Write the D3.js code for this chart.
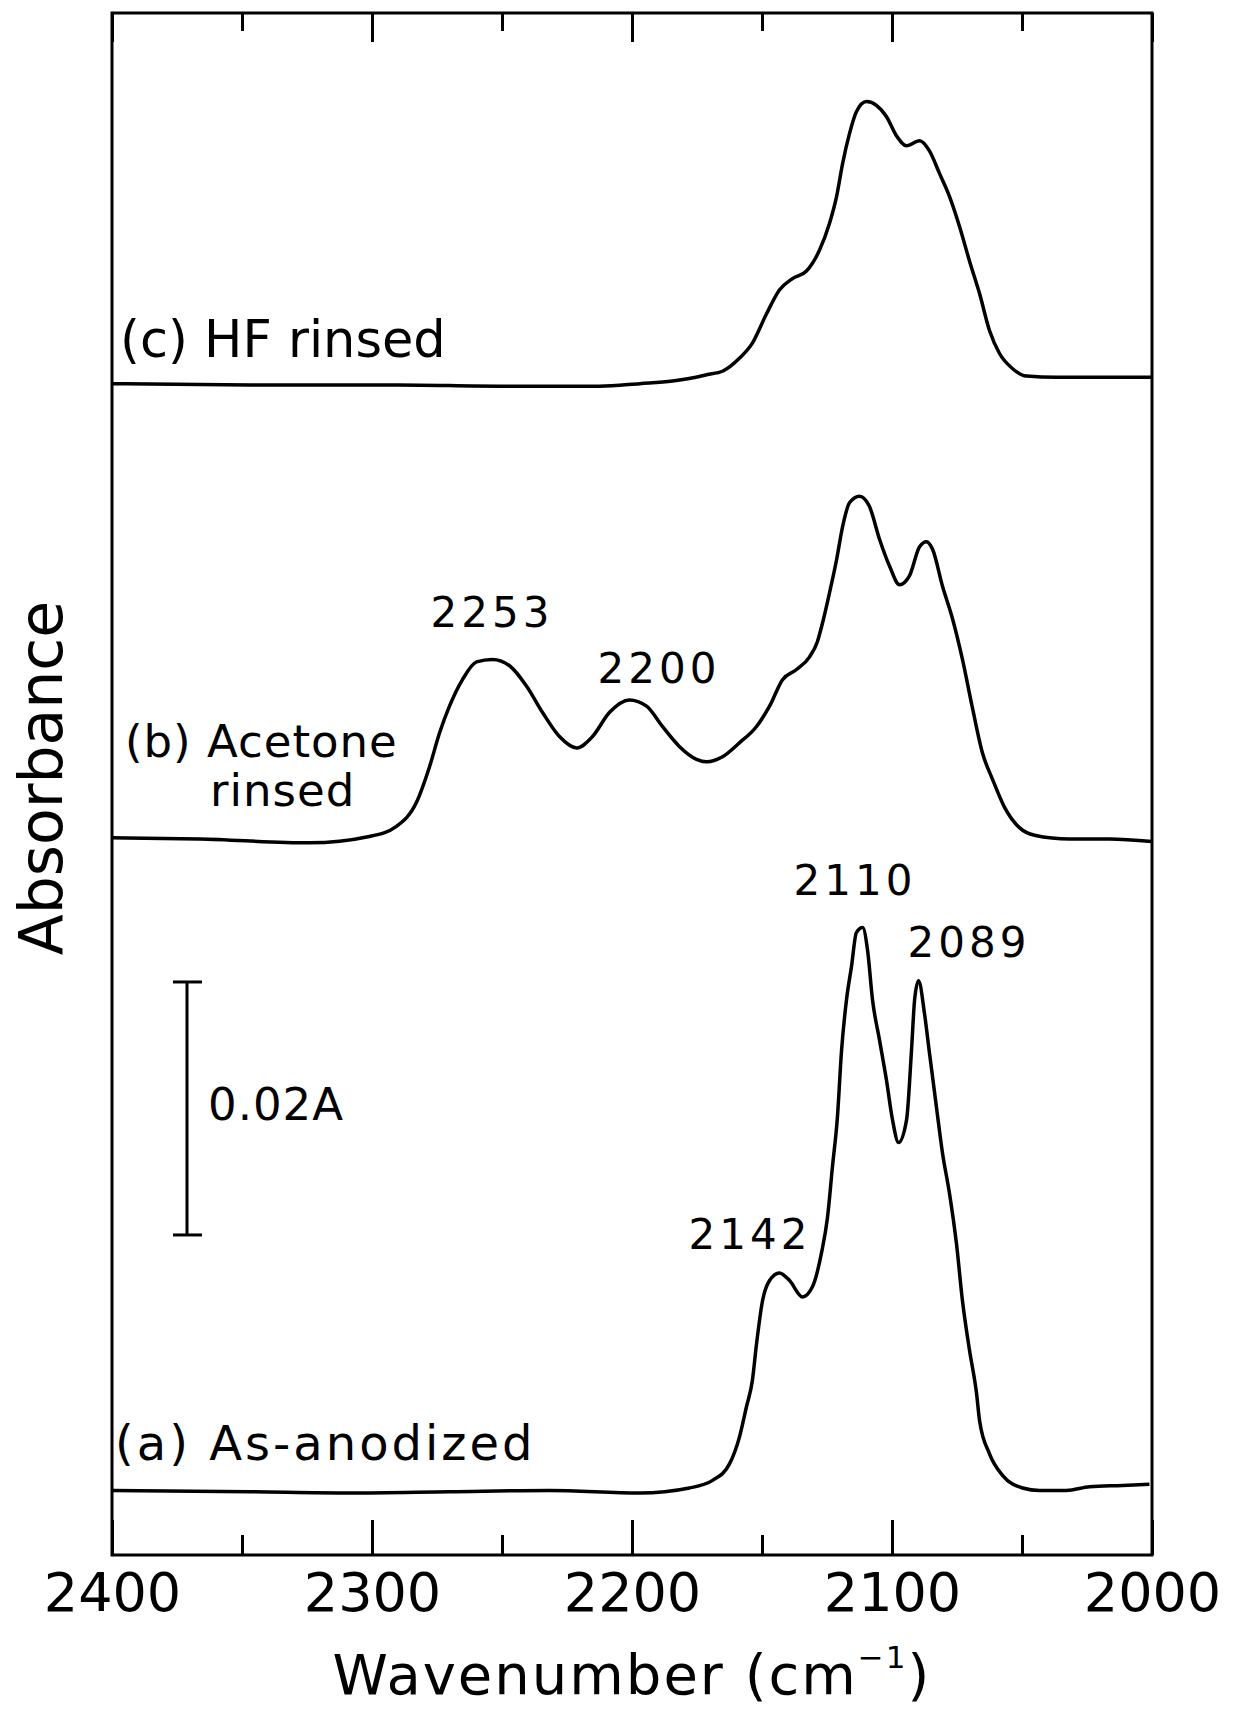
<!DOCTYPE html>
<html>
<head>
<meta charset="utf-8">
<script src="https://cdn.jsdelivr.net/npm/d3@7"></script>
<style>
  body { margin: 0; background: #fff; }
  text { font-family: "DejaVu Sans", sans-serif; fill: #000; }
</style>
</head>
<body>
<div class="chart"></div>
<script>
// Data (wavenumber in cm-1, absorbance in mA above each trace's baseline)
const wnA = [2400, 2347, 2308.7, 2270.2, 2231.7, 2197, 2177.9, 2169, 2162.5, 2158.7, 2156, 2153.7, 2152.1, 2149.8, 2147.1, 2143.3, 2139.4, 2134.4, 2130.6, 2127.1, 2124.8, 2122.9, 2121, 2119.4, 2117.5, 2115.6, 2113.7, 2111.3, 2109.4, 2107.5, 2104.8, 2102.1, 2099.8, 2097.5, 2094.4, 2092.5, 2091.3, 2089.8, 2087.5, 2085.6, 2082.9, 2080.6, 2077.9, 2075.2, 2072.9, 2070.2, 2067.5, 2066.3, 2062.5, 2057.5, 2049.8, 2043.3, 2032.9, 2024, 2011.3, 2001];
const absA = [0, -0.1, -0.2, -0.1, 0, -0.2, 0.2, 0.8, 2.1, 4.2, 6.6, 8.7, 11.6, 15.0, 16.6, 17.2, 16.6, 15.3, 16.1, 18.8, 21.6, 25.6, 29.5, 34.8, 38.8, 41.4, 44.1, 44.5, 42.7, 38.8, 35.6, 32.4, 29.3, 27.5, 29.3, 34.8, 38.8, 40.3, 37.7, 34.6, 30.3, 26.7, 23.5, 19.5, 15.0, 11.1, 7.7, 5.5, 2.9, 1.2, 0.2, 0, 0, 0.3, 0.4, 0.5];

const wnB = [2400, 2366.3, 2324, 2301, 2290.6, 2282.9, 2277.9, 2274, 2270.2, 2265.2, 2259.8, 2253.7, 2247.1, 2240.6, 2234.4, 2227.9, 2221.3, 2215.2, 2208.7, 2201, 2194.4, 2188.3, 2181.7, 2175.2, 2171.3, 2165.2, 2158.7, 2152.1, 2147.1, 2142.1, 2136.7, 2131.7, 2128.7, 2126.7, 2124, 2121.3, 2119, 2116.3, 2112.5, 2108.7, 2104.8, 2101, 2097.1, 2093.3, 2089.4, 2086.7, 2084.4, 2080.6, 2076.7, 2072.9, 2069, 2065.2, 2061.3, 2056.7, 2051, 2045.2, 2031.7, 2016.3, 2000];
const absB = [-0.1, -0.2, -0.5, 0, 0.8, 2.7, 5.5, 8.2, 10.3, 12.4, 13.8, 14.0, 13.5, 11.9, 9.8, 7.9, 7.0, 7.9, 9.8, 10.8, 10.3, 8.7, 7.1, 6.1, 5.9, 6.3, 7.4, 8.7, 10.3, 12.4, 13.2, 14.2, 15.4, 16.9, 19.3, 21.9, 24.5, 26.4, 26.9, 26.1, 23.5, 21.4, 19.9, 20.6, 22.9, 23.3, 22.7, 19.8, 17.2, 14.0, 10.1, 6.6, 4.5, 2.3, 0.7, 0.1, -0.2, -0.2, -0.4];

const wnC = [2400, 2347, 2290, 2251, 2212.5, 2197, 2184.4, 2178, 2171.3, 2165, 2158.7, 2153.7, 2148.3, 2143.3, 2138.3, 2132.9, 2128, 2124, 2121.3, 2119, 2116.3, 2113.7, 2109.8, 2106, 2102.1, 2098.3, 2094.4, 2089.4, 2085.6, 2081.7, 2077.9, 2074, 2070.2, 2066.3, 2062.5, 2058.7, 2053.7, 2048.3, 2036.7, 2024, 2011.3, 2000];
const absC = [0, -0.1, -0.1, -0.2, -0.2, 0, 0.2, 0.4, 0.7, 1.0, 2.0, 3.2, 5.5, 7.4, 8.3, 8.9, 10.5, 12.7, 14.8, 17.4, 19.8, 21.5, 22.3, 22.0, 21.1, 19.6, 18.8, 19.2, 18.4, 16.6, 14.8, 12.4, 9.7, 7.1, 4.2, 2.4, 1.2, 0.6, 0.5, 0.5, 0.5, 0.5];

// vertical offsets of the stacked traces (mA)
const offsets = [5.1, 56.8, 92.6];
const traceLabels = ['(a) As-anodized', '(b) Acetone', '(c) HF rinsed'];

const peakLabels = ['2253', '2200', '2110', '2089', '2142'];
const majorTicks = [2400, 2300, 2200, 2100, 2000];
const minorTicks = [2350, 2250, 2150, 2050];
const scaleBar = [25.3, 45.3]; // 0.02 A

// Layout
const W = 1236, H = 1712;
const margin = {top: 13, right: 84, bottom: 157, left: 112};
const width = W - margin.left - margin.right;
const height = H - margin.top - margin.bottom;

const x = d3.scaleLinear().domain([2400, 2000]).range([0, width]);
const y = d3.scaleLinear().domain([0, 121.9]).range([height, 0]);

const svg = d3.select('.chart')
    .append('svg')
    .attr('width', W)
    .attr('height', H)
    .style('background', '#fff');

const g = svg.append('g')
    .attr('transform', `translate(${margin.left}, ${margin.top})`);

// Axes (ticks pointing inward)
function styleAxis(sel) {
    sel.select('.domain').remove();
    sel.selectAll('.tick line').attr('stroke', '#000').attr('stroke-width', 3);
}

g.append('g')
    .attr('transform', `translate(0, ${height})`)
    .call(d3.axisBottom(x).tickValues(majorTicks).tickSizeInner(-35).tickSizeOuter(0).tickPadding(18).tickFormat(d3.format('d')))
    .call(styleAxis)
    .selectAll('text')
    .style('font-size', '54px')
    .style('font-family', '"DejaVu Sans", sans-serif')
    .attr('fill', '#000');

g.append('g')
    .attr('transform', `translate(0, ${height})`)
    .call(d3.axisBottom(x).tickValues(minorTicks).tickSizeInner(-20).tickSizeOuter(0).tickFormat(''))
    .call(styleAxis);

g.append('g')
    .call(d3.axisTop(x).tickValues(majorTicks).tickSizeInner(-29).tickSizeOuter(0).tickFormat(''))
    .call(styleAxis);

g.append('g')
    .call(d3.axisTop(x).tickValues(minorTicks).tickSizeInner(-18).tickSizeOuter(0).tickFormat(''))
    .call(styleAxis);

// Frame
g.append('rect')
    .attr('width', width)
    .attr('height', height)
    .attr('fill', 'none')
    .attr('stroke', '#000')
    .attr('stroke-width', 3);

// Spectra
const series = [
    {wn: wnA, abs: absA, off: offsets[0]},
    {wn: wnB, abs: absB, off: offsets[1]},
    {wn: wnC, abs: absC, off: offsets[2]}
];

const line = d3.line()
    .x(d => x(d[0]))
    .y(d => y(d[1]))
    .curve(d3.curveMonotoneX);

series.forEach(s => {
    const pts = s.wn.map((w, i) => [w, s.abs[i] + s.off]);
    g.append('path')
        .datum(pts)
        .attr('d', line)
        .attr('fill', 'none')
        .attr('stroke', '#000')
        .attr('stroke-width', 3.5)
        .attr('stroke-linejoin', 'round');
});

// Trace labels
svg.append('text').attr('x', 115).attr('y', 1460)
    .style('font-size', '48px').style('letter-spacing', '3px')
    .text(traceLabels[0]);
svg.append('text').attr('x', 125).attr('y', 757)
    .style('font-size', '45px').style('letter-spacing', '1px')
    .text(traceLabels[1]);
svg.append('text').attr('x', 210).attr('y', 806)
    .style('font-size', '45px').style('letter-spacing', '1px')
    .text('rinsed');
svg.append('text').attr('x', 120).attr('y', 357)
    .style('font-size', '51px')
    .text(traceLabels[2]);

// Peak labels
const peakPos = [[490, 627], [657, 683], [853, 895], [967, 957], [748, 1249]];
peakLabels.forEach((t, i) => {
    svg.append('text')
        .attr('x', peakPos[i][0] + 2)
        .attr('y', peakPos[i][1])
        .attr('text-anchor', 'middle')
        .style('font-size', '42px')
        .style('letter-spacing', '4px')
        .text(t);
});

// Scale bar
const barX = 75;
const bar = g.append('g').attr('stroke', '#000').attr('stroke-width', 3);
bar.append('line').attr('x1', barX).attr('x2', barX).attr('y1', y(scaleBar[0])).attr('y2', y(scaleBar[1]));
bar.append('line').attr('x1', barX - 14).attr('x2', barX + 15).attr('y1', y(scaleBar[0])).attr('y2', y(scaleBar[0]));
bar.append('line').attr('x1', barX - 14).attr('x2', barX + 15).attr('y1', y(scaleBar[1])).attr('y2', y(scaleBar[1]));
svg.append('text').attr('x', 208).attr('y', 1120)
    .style('font-size', '45px').style('letter-spacing', '1px')
    .text('0.02A');

// Axis titles
svg.append('text')
    .attr('transform', 'translate(62, 778) rotate(-90)')
    .attr('text-anchor', 'middle')
    .style('font-size', '60px')
    .text('Absorbance');

const xt = svg.append('text')
    .attr('x', 632)
    .attr('y', 1694)
    .attr('text-anchor', 'middle')
    .style('font-size', '56px')
    .style('letter-spacing', '2px');
xt.append('tspan').text('Wavenumber (cm');
xt.append('tspan').attr('dy', -26).style('font-size', '31px').text('−1');
xt.append('tspan').attr('dy', 26).text(')');
</script>
</body>
</html>
